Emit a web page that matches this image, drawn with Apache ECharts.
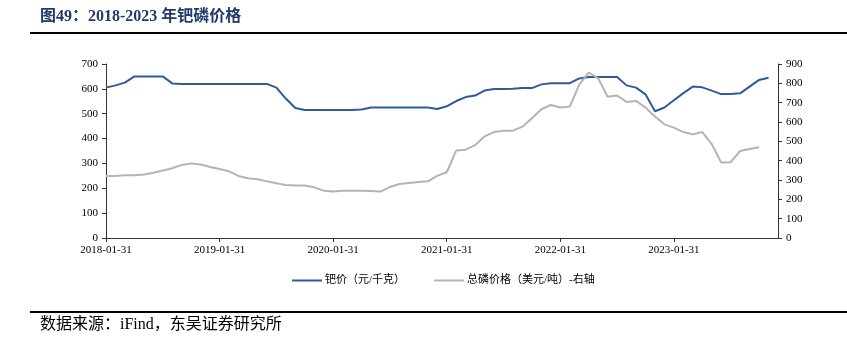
<!DOCTYPE html>
<html>
<head>
<meta charset="utf-8">
<script src="https://cdn.jsdelivr.net/npm/echarts@6/dist/echarts.min.js"></script>
<style>
html,body{margin:0;padding:0;background:#fff;}
#chart{width:847px;height:339px;}
</style>
</head>
<body>
<div id="chart"></div>
<script>
var categories = [
'2018-01-31','2018-02-28','2018-03-31','2018-04-30','2018-05-31','2018-06-30','2018-07-31','2018-08-31','2018-09-30','2018-10-31','2018-11-30','2018-12-31',
'2019-01-31','2019-02-28','2019-03-31','2019-04-30','2019-05-31','2019-06-30','2019-07-31','2019-08-31','2019-09-30','2019-10-31','2019-11-30','2019-12-31',
'2020-01-31','2020-02-29','2020-03-31','2020-04-30','2020-05-31','2020-06-30','2020-07-31','2020-08-31','2020-09-30','2020-10-31','2020-11-30','2020-12-31',
'2021-01-31','2021-02-28','2021-03-31','2021-04-30','2021-05-31','2021-06-30','2021-07-31','2021-08-31','2021-09-30','2021-10-31','2021-11-30','2021-12-31',
'2022-01-31','2022-02-28','2022-03-31','2022-04-30','2022-05-31','2022-06-30','2022-07-31','2022-08-31','2022-09-30','2022-10-31','2022-11-30','2022-12-31',
'2023-01-31','2023-02-28','2023-03-31','2023-04-30','2023-05-31','2023-06-30','2023-07-31','2023-08-31','2023-09-30','2023-10-31','2023-11-30','2023-12-31'
];

// 钯价（元/千克）
var palladium = [
605,614,625,650,650,650,650,622,620,620,620,620,
620,620,620,620,620,620,605,561,523,515,515,515,
515,515,515,517,525,525,525,525,525,525,525,519,
530,551,567,573,593,599,599,600,603,603,618,623,
623,623,642,648,648,648,648,614,605,578,510,525,
554,583,609,606,593,579,579,582,609,636,645
];

// 总磷价格（美元/吨）- 右轴
var phosphate = [
321,321,324,325,328,338,349,361,378,386,380,367,
357,345,321,309,304,293,283,274,271,271,262,245,
240,245,245,245,243,240,264,279,285,290,293,321,
340,452,457,480,526,548,555,555,576,619,666,688,
675,680,793,856,826,731,737,704,709,675,628,588,
571,548,536,548,486,390,392,450,460,469
];

var leftTicks = {min:0, max:700, interval:100};
var rightTicks = {min:0, max:900, interval:100};

var serif = '"Liberation Serif","Times New Roman","Noto Sans CJK SC",serif';
var axisColor = '#333333';

var chart = echarts.init(document.getElementById('chart'), null, {renderer:'canvas'});
chart.setOption({
  animation:false,
  backgroundColor:'#ffffff',
  title:{
    text:'图49：2018-2023 年钯磷价格',
    left:40, top:9, padding:0,
    textStyle:{fontSize:16, fontWeight:'bold', color:'#1f3a6b', fontFamily:serif}
  },
  graphic:[
    {type:'line', shape:{x1:30,y1:33,x2:847,y2:33}, style:{stroke:'#000',lineWidth:2}},
    {type:'line', shape:{x1:30,y1:312,x2:847,y2:312}, style:{stroke:'#000',lineWidth:2}},
    {type:'text', left:40, top:317, style:{text:'数据来源：iFind，东吴证券研究所', fontSize:16, fill:'#000', fontFamily:serif}}
  ],
  legend:{
    left:292, top:275, padding:0,
    itemWidth:30, itemHeight:2, itemGap:29,
    icon:'rect',
    textStyle:{fontSize:11, color:'#000', fontFamily:serif, padding:[0,0,0,-2]},
    data:['钯价（元/千克）','总磷价格（美元/吨）-右轴']
  },
  grid:{left:106, right:69, top:64, bottom:101, containLabel:false},
  xAxis:{
    type:'category',
    data:categories,
    boundaryGap:false,
    axisLine:{lineStyle:{color:axisColor, width:1}},
    axisTick:{show:true, interval:11, length:4, inside:false, lineStyle:{color:axisColor}},
    axisLabel:{interval:11, fontSize:11, color:'#000', fontFamily:serif, margin:7}
  },
  yAxis:[
    {
      type:'value', position:'left',
      min:leftTicks.min, max:leftTicks.max, interval:leftTicks.interval,
      axisLine:{show:true, lineStyle:{color:axisColor}},
      axisTick:{show:true, length:4, lineStyle:{color:axisColor}},
      splitLine:{show:false},
      axisLabel:{fontSize:11, color:'#000', fontFamily:serif, margin:8}
    },
    {
      type:'value', position:'right',
      min:rightTicks.min, max:rightTicks.max, interval:rightTicks.interval,
      axisLine:{show:true, lineStyle:{color:axisColor}},
      axisTick:{show:true, length:4, lineStyle:{color:axisColor}},
      splitLine:{show:false},
      axisLabel:{fontSize:11, color:'#000', fontFamily:serif, margin:8}
    }
  ],
  series:[
    {
      name:'钯价（元/千克）', type:'line', yAxisIndex:0,
      data:palladium, symbol:'none', smooth:false,
      lineStyle:{color:'#2f5b97', width:2},
      itemStyle:{color:'#2f5b97'}
    },
    {
      name:'总磷价格（美元/吨）-右轴', type:'line', yAxisIndex:1,
      data:phosphate, symbol:'none', smooth:false,
      lineStyle:{color:'#b4b4b4', width:2},
      itemStyle:{color:'#b4b4b4'}
    }
  ]
});
</script>
</body>
</html>
